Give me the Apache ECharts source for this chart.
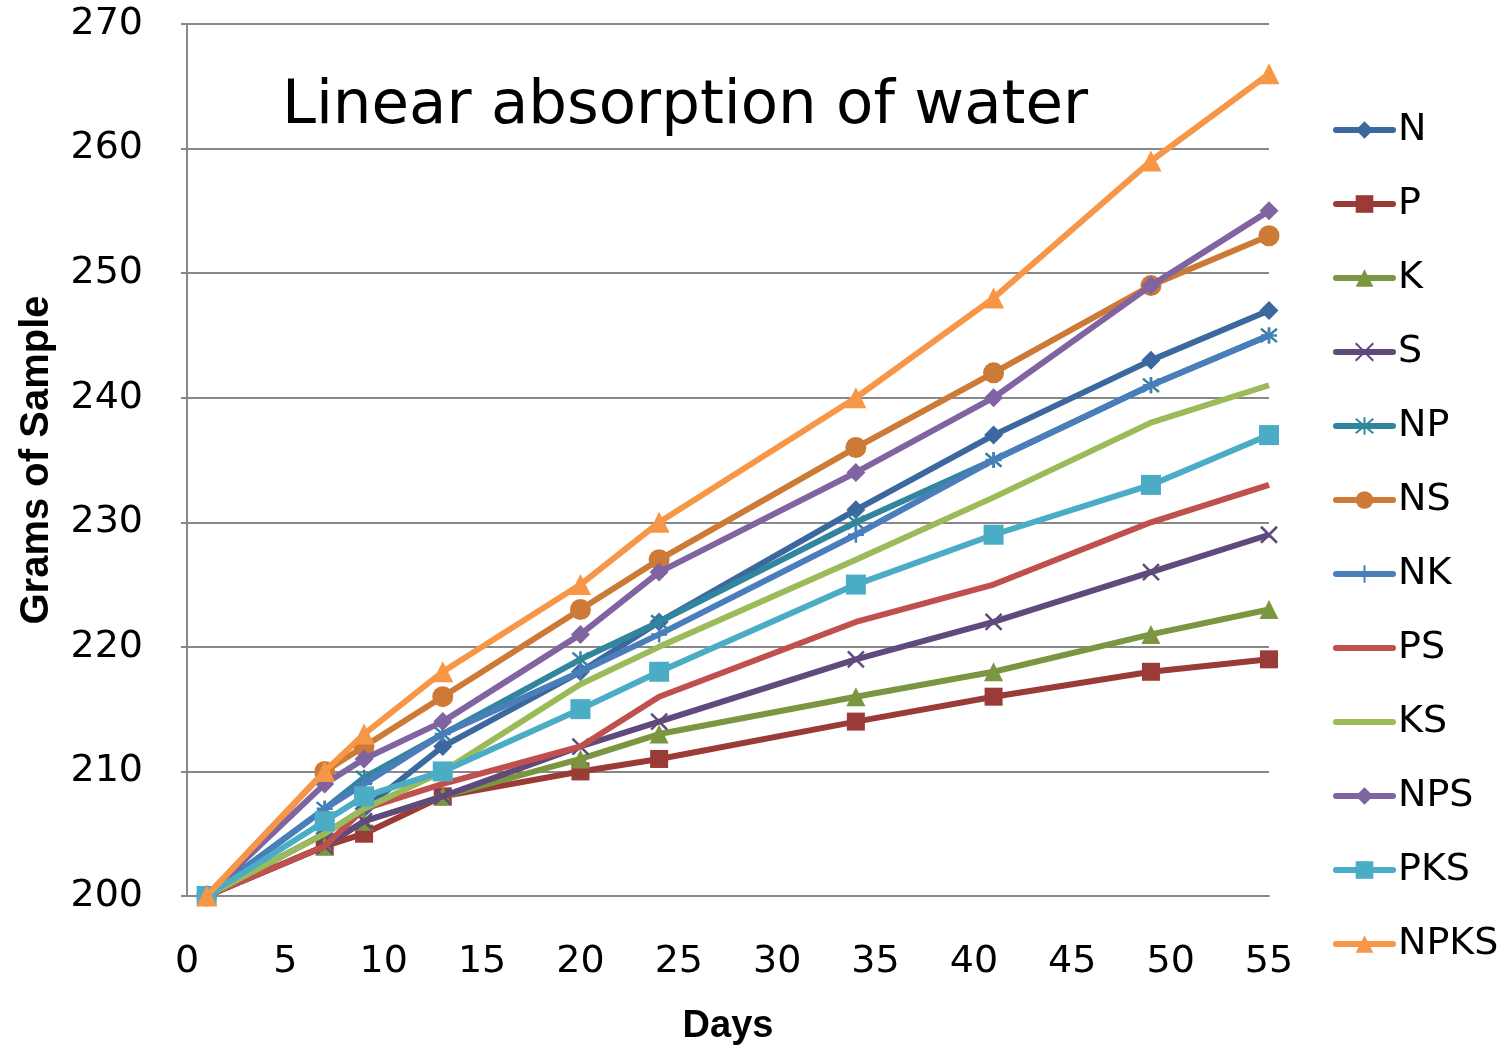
<!DOCTYPE html>
<html><head><meta charset="utf-8">
<script src="https://cdn.jsdelivr.net/npm/echarts@6/dist/echarts.min.js"></script>
<style>html,body{margin:0;padding:0;background:#fff}#c{width:1505px;height:1051px}</style>
</head><body><div id="c"></div>
<script>
const days = [1, 7, 9, 13, 20, 24, 34, 41, 49, 55];
const seriesNames = ['N','P','K','S','NP','NS','NK','PS','KS','NPS','PKS','NPKS'];
const N    = [200, 205, 207, 212, 218, 222, 231, 237, 243, 247];
const P    = [200, 204, 205, 208, 210, 211, 214, 216, 218, 219];
const K    = [200, 204, 206, 208, 211, 213, 216, 218, 221, 223];
const S    = [200, 204, 206, 208, 212, 214, 219, 222, 226, 229];
const NP   = [200, 207, 209.5, 213, 219, 222, 230, 235, 241, 245];
const NS   = [200, 210, 212, 216, 223, 227, 236, 242, 249, 253];
const NK   = [200, 207, 209, 213, 218, 221, 229, 235, 241, 245];
const PS   = [200, 204, 207, 209, 212, 216, 222, 225, 230, 233];
const KS   = [200, 205, 207, 210, 217, 220, 227, 232, 238, 241];
const NPS  = [200, 209, 211, 214, 221, 226, 234, 240, 249, 255];
const PKS  = [200, 206, 208, 210, 215, 218, 225, 229, 233, 237];
const NPKS = [200, 210, 213, 218, 225, 230, 240, 248, 259, 266];
const values = [N, P, K, S, NP, NS, NK, PS, KS, NPS, PKS, NPKS];
const titleText = 'Linear absorption of water';

const colors = ['#3b689f','#9b3b38','#7a9640','#60497c','#31869e','#cc7a35','#4a7ebb','#c0504d','#9bbb59','#8064a2','#4bacc6','#f79646'];
const symbols = ['diamond','rect','triangle','path://M0,0L10,10M10,0L0,10','path://M0,0L10,10M10,0L0,10M5,-1L5,11','circle','path://M5,0L5,10M0,5L10,5','none','none','diamond','rect','triangle'];
const sizes = [19,18,19,16,16,21,16,0,0,19,20,21];

const chart = echarts.init(document.getElementById('c'), null, {renderer:'canvas'});
const series = seriesNames.map((name, i) => {
  const isPath = symbols[i].startsWith('path');
  return {
    name: name,
    type: 'line',
    data: days.map((d, j) => [d, values[i][j]]),
    symbol: symbols[i],
    symbolSize: sizes[i],
    showSymbol: symbols[i] !== 'none',
    lineStyle: {color: colors[i], width: 6},
    itemStyle: isPath ? {color: colors[i], borderColor: colors[i], borderWidth: 2.5} : {color: colors[i]},
    z: 2 + i,
    animation: false
  };
});

const legendData = seriesNames.map((name, i) => symbols[i] === 'none'
  ? {name: name, itemStyle: {opacity: 0}}
  : {name: name});

chart.setOption({
  animation: false,
  backgroundColor: '#fff',
  title: {
    text: titleText,
    left: 680, top: 72, textAlign: 'center',
    textStyle: {fontFamily: 'DejaVu Sans', fontSize: 61, fontWeight: 'normal', color: '#000'}
  },
  legend: {
    orient: 'vertical',
    left: 1333, top: 111, padding: 0,
    itemWidth: 57, itemHeight: 22, itemGap: 36,
    data: legendData,
    lineStyle: {width: 6, cap: 'round'},
    textStyle: {fontFamily: 'DejaVu Sans', fontSize: 38, lineHeight: 38, color: '#000'}
  },
  grid: {left: 187, right: 236, top: 24, bottom: 153, containLabel: false},
  xAxis: {
    type: 'value', min: 0, max: 55, interval: 5,
    name: 'Days', nameLocation: 'middle', nameGap: 112,
    nameTextStyle: {fontFamily: 'Liberation Sans', fontWeight: 'bold', fontSize: 38, color: '#000'},
    axisLine: {show: true, lineStyle: {color: '#888', width: 2}},
    axisTick: {show: false},
    splitLine: {show: false},
    axisLabel: {fontFamily: 'DejaVu Sans', fontSize: 38, color: '#000', margin: 47}
  },
  yAxis: {
    type: 'value', min: 200, max: 270, interval: 10,
    name: 'Grams of Sample', nameLocation: 'middle', nameGap: 130, nameRotate: 90,
    nameTextStyle: {fontFamily: 'Liberation Sans', fontWeight: 'bold', fontSize: 40, color: '#000'},
    axisLine: {show: true, lineStyle: {color: '#888', width: 2}},
    axisTick: {show: true, length: 6, lineStyle: {color: '#888', width: 2}},
    splitLine: {show: true, lineStyle: {color: '#888', width: 2}},
    axisLabel: {fontFamily: 'DejaVu Sans', fontSize: 38, color: '#000', margin: 44}
  },
  series: series
});
</script></body></html>
